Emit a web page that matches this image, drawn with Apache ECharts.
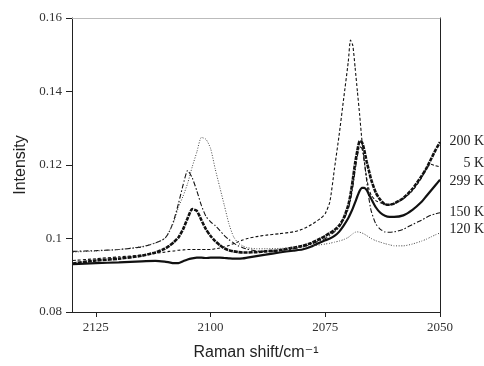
<!DOCTYPE html>
<html>
<head>
<meta charset="utf-8">
<script src="https://cdn.jsdelivr.net/npm/echarts@6/dist/echarts.min.js"></script>
<style>
  html, body { margin: 0; padding: 0; background: #fff; }
  #chart { width: 484px; height: 366px; }
</style>
</head>
<body>
<div id="chart"></div>
<script>
// Raman shift (cm-1), shared sample points for every curve
const shift = [2130, 2125, 2120, 2115, 2112, 2110, 2109, 2108, 2107, 2106, 2105, 2104, 2103, 2102, 2101, 2100,
  2099, 2098, 2097, 2096, 2095, 2094, 2093, 2092, 2090, 2088, 2085, 2082, 2080, 2078, 2076, 2075, 2074, 2073,
  2072, 2071, 2070, 2069.5, 2069, 2068.5, 2068, 2067.5, 2067, 2066.5, 2066, 2065.5, 2065, 2064, 2063, 2062,
  2061, 2060, 2058, 2056, 2054, 2053, 2052, 2051, 2050];

const int200 = [0.0932, 0.0940, 0.0945, 0.0953, 0.0962, 0.0972, 0.0980, 0.0990, 0.1003, 0.1025, 0.1055, 0.1080, 0.1075, 0.1050, 0.1025, 0.1007,
  0.0993, 0.0982, 0.0973, 0.0968, 0.0965, 0.0963, 0.0962, 0.0962, 0.0963, 0.0965, 0.0968, 0.0975, 0.0980, 0.0988, 0.1000, 0.1007, 0.1015, 0.1023,
  0.1035, 0.1055, 0.1090, 0.1120, 0.1160, 0.1205, 0.1240, 0.1265, 0.1262, 0.1240, 0.1210, 0.1185, 0.1160, 0.1125, 0.1105, 0.1093,
  0.1092, 0.1095, 0.1110, 0.1135, 0.1170, 0.1190, 0.1215, 0.1240, 0.1262];

const int5 = [0.0940, 0.0945, 0.0950, 0.0955, 0.0960, 0.0963, 0.0965, 0.0966, 0.0968, 0.0969, 0.0970, 0.0970, 0.0970, 0.0970, 0.0970, 0.0970,
  0.0972, 0.0974, 0.0977, 0.0981, 0.0986, 0.0991, 0.0996, 0.1000, 0.1005, 0.1009, 0.1013, 0.1018, 0.1025, 0.1038, 0.1055, 0.1068, 0.1100, 0.1190,
  0.1280, 0.1380, 0.1480, 0.1540, 0.1525, 0.1465, 0.1400, 0.1335, 0.1265, 0.1210, 0.1165, 0.1135, 0.1118, 0.1103, 0.1097, 0.1093,
  0.1092, 0.1095, 0.1108, 0.1130, 0.1165, 0.1190, 0.1202, 0.1198, 0.1195];

const int299 = [0.0930, 0.0933, 0.0935, 0.0938, 0.0939, 0.0937, 0.0935, 0.0933, 0.0933, 0.0938, 0.0943, 0.0946, 0.0948, 0.0948, 0.0947, 0.0948,
  0.0948, 0.0948, 0.0947, 0.0946, 0.0945, 0.0945, 0.0946, 0.0948, 0.0952, 0.0956, 0.0962, 0.0967, 0.0970, 0.0978, 0.0990, 0.0995, 0.1000, 0.1007,
  0.1018, 0.1035, 0.1055, 0.1068, 0.1082, 0.1098, 0.1115, 0.1130, 0.1138, 0.1138, 0.1132, 0.1120, 0.1108, 0.1085, 0.1070, 0.1062,
  0.1059, 0.1059, 0.1063, 0.1078, 0.1100, 0.1115, 0.1130, 0.1145, 0.1160];

const int150 = [0.0965, 0.0967, 0.0970, 0.0977, 0.0988, 0.1000, 0.1018, 0.1050, 0.1095, 0.1145, 0.1185, 0.1165, 0.1130, 0.1090, 0.1060, 0.1045,
  0.1035, 0.1022, 0.1008, 0.0997, 0.0988, 0.0980, 0.0975, 0.0971, 0.0966, 0.0965, 0.0967, 0.0972, 0.0977, 0.0985, 0.0995, 0.1000, 0.1008, 0.1018,
  0.1030, 0.1050, 0.1080, 0.1105, 0.1140, 0.1185, 0.1225, 0.1250, 0.1245, 0.1210, 0.1160, 0.1110, 0.1075, 0.1040, 0.1025, 0.1018,
  0.1017, 0.1018, 0.1025, 0.1038, 0.1050, 0.1057, 0.1063, 0.1067, 0.1070];

const int120 = [0.0963, 0.0966, 0.0970, 0.0978, 0.0988, 0.1000, 0.1020, 0.1045, 0.1085, 0.1115, 0.1150, 0.1195, 0.1235, 0.1275, 0.1270, 0.1245,
  0.1190, 0.1140, 0.1090, 0.1040, 0.1005, 0.0988, 0.0980, 0.0975, 0.0972, 0.0972, 0.0973, 0.0975, 0.0977, 0.0980, 0.0983, 0.0985, 0.0987, 0.0990,
  0.0993, 0.0997, 0.1003, 0.1008, 0.1013, 0.1017, 0.1018, 0.1017, 0.1015, 0.1012, 0.1008, 0.1004, 0.1000, 0.0994, 0.0990, 0.0986,
  0.0983, 0.0980, 0.0980, 0.0985, 0.0993, 0.0998, 0.1004, 0.1010, 0.1015];

const xTicks = [2050, 2075, 2100, 2125];

const serif = "'Liberation Serif', 'DejaVu Serif', serif";
const sans = "'Liberation Sans', 'DejaVu Sans', sans-serif";

const chart = echarts.init(document.getElementById('chart'));

// 曲线样式：粗点线、虚线、实线、点划线、细点线
const makeSeries = (name, values, lineStyle, labelDy) => ({
    name: name,
    type: 'line',
    xAxisIndex: 0,
    yAxisIndex: 0,
    data: shift.map((x, i) => [x, values[i]]),
    showSymbol: false,
    smooth: 0.2,
    lineStyle: Object.assign({ color: '#111' }, lineStyle),
    endLabel: {
        show: true,
        formatter: '{a}',
        position: 'right',
        distance: 0,
        align: 'right',
        offset: [44, labelDy],
        fontFamily: serif,
        fontSize: 14,
        color: '#222'
    },
    animation: false
});

chart.setOption({
    animation: false,
    grid: { left: 72, right: 44, top: 18, bottom: 54 },
    xAxis: [
        {
            type: 'value',
            inverse: true,
            min: 2050,
            max: 2130.2,
            position: 'bottom',
            name: 'Raman shift/cm\u207B\u00B9',
            nameLocation: 'middle',
            nameGap: 33,
            nameTextStyle: { fontFamily: sans, fontSize: 16, color: '#222' },
            axisLine: { lineStyle: { color: '#222', width: 1 } },
            axisTick: { show: true, length: 5, customValues: xTicks, lineStyle: { color: '#222' } },
            axisLabel: { customValues: xTicks, margin: 9, fontFamily: serif, fontSize: 13, color: '#333',
                formatter: v => String(v) },
            splitLine: { show: false }
        },
        {
            type: 'value',
            inverse: true,
            min: 2050,
            max: 2130.2,
            position: 'top',
            axisLine: { lineStyle: { color: '#bbb', width: 1 } },
            axisTick: { show: false },
            axisLabel: { show: false },
            splitLine: { show: false }
        }
    ],
    yAxis: [
        {
            type: 'value',
            min: 0.08,
            max: 0.16,
            interval: 0.02,
            name: 'Intensity',
            nameLocation: 'middle',
            nameGap: 40,
            nameTextStyle: { fontFamily: sans, fontSize: 16, color: '#222' },
            axisLine: { show: true, lineStyle: { color: '#222', width: 1 } },
            axisTick: { show: true, length: 6, lineStyle: { color: '#222' } },
            axisLabel: { margin: 10, fontFamily: serif, fontSize: 13, color: '#333',
                formatter: v => String(+v.toFixed(2)) },
            splitLine: { show: false }
        },
        {
            type: 'value',
            min: 0.08,
            max: 0.16,
            position: 'right',
            axisLine: { show: true, lineStyle: { color: '#222', width: 1 } },
            axisTick: { show: false },
            axisLabel: { show: false },
            splitLine: { show: false }
        }
    ],
    series: [
        makeSeries('200 K', int200, { width: 2.6, type: [4, 1] }, -1),
        makeSeries('5 K', int5, { width: 1.1, type: [3, 2] }, -4),
        makeSeries('299 K', int299, { width: 2.2, type: 'solid' }, 2),
        makeSeries('150 K', int150, { width: 1.1, type: [5, 2, 1.5, 2] }, 0),
        makeSeries('120 K', int120, { width: 1, type: [1, 1.6], color: '#444' }, -4)
    ]
});

window.addEventListener('resize', () => chart.resize());
</script>
</body>
</html>
